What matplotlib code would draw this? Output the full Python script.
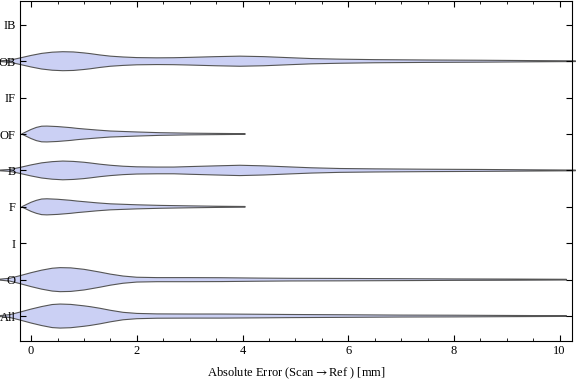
import numpy as np
import matplotlib
matplotlib.use("Agg")
import matplotlib.pyplot as plt
from matplotlib.ticker import MultipleLocator

plt.rcParams['font.family'] = ['Liberation Serif', 'DejaVu Serif']
plt.rcParams['mathtext.fontset'] = 'stix'

# categories bottom -> top
cats = ["All", "O", "I", "F", "B", "OF", "IF", "OB", "IB"]

# violin profiles: error value (mm) and relative density
x_all = [-0.59, -0.4, -0.21, 0, 0.2, 0.4, 0.55, 0.75, 1.0, 1.12, 1.3, 1.5, 1.74, 2.0, 2.38,
         3.0, 3.6, 4.3, 4.9, 5.84, 7.0, 8.0, 9.0, 10.13]
d_all = [0.04, 0.12, 0.33, 0.58, 0.79, 0.96, 1.0, 0.97, 0.85, 0.78, 0.65, 0.48, 0.31, 0.22, 0.18,
         0.17, 0.17, 0.15, 0.13, 0.11, 0.08, 0.07, 0.05, 0.03]
x_o = x_all
d_o = [0.04, 0.12, 0.33, 0.58, 0.79, 0.95, 1.0, 0.98, 0.86, 0.77, 0.63, 0.46, 0.30, 0.20, 0.17,
       0.17, 0.16, 0.13, 0.11, 0.10, 0.08, 0.06, 0.05, 0.03]
x_b = [-0.59, -0.4, -0.21, 0, 0.2, 0.4, 0.6, 0.8, 1.0, 1.12, 1.3, 1.5, 1.74, 2.0, 2.38, 2.7,
       3.0, 3.5, 3.95, 4.4, 4.9, 5.3, 5.84, 6.5, 7.5, 8.5, 9.5, 10.3]
d_b = [0.03, 0.08, 0.25, 0.46, 0.63, 0.73, 0.78, 0.75, 0.68, 0.62, 0.52, 0.43, 0.35, 0.30, 0.28, 0.28,
       0.32, 0.38, 0.43, 0.38, 0.29, 0.22, 0.16, 0.13, 0.10, 0.08, 0.05, 0.03]
x_ob = x_b
d_ob = [0.03, 0.09, 0.27, 0.48, 0.65, 0.75, 0.79, 0.77, 0.69, 0.63, 0.52, 0.42, 0.35, 0.30, 0.28, 0.29,
        0.32, 0.38, 0.42, 0.38, 0.29, 0.22, 0.17, 0.13, 0.10, 0.08, 0.05, 0.03]
x_f = [-0.18, -0.1, 0, 0.1, 0.2, 0.3, 0.5, 0.75, 0.87, 1.0, 1.25, 1.5, 2.0, 2.44, 3.0, 3.5, 4.05]
d_f = [0.0, 0.17, 0.38, 0.54, 0.65, 0.67, 0.63, 0.54, 0.48, 0.43, 0.33, 0.25, 0.17, 0.12, 0.08, 0.05, 0.03]
x_of = x_f
d_of = [0.0, 0.17, 0.38, 0.55, 0.65, 0.66, 0.62, 0.53, 0.47, 0.42, 0.33, 0.25, 0.17, 0.11, 0.07, 0.05, 0.03]

profiles = {"All": (x_all, d_all), "O": (x_o, d_o), "F": (x_f, d_f),
            "B": (x_b, d_b), "OF": (x_of, d_of), "OB": (x_ob, d_ob)}

scale = 0.33
fill_col = "#cbd0f4"
edge_col = "#555555"

fig = plt.figure(figsize=(5.76, 3.81), dpi=100)
ax = fig.add_axes([0.0347, 0.105, 0.958, 0.893])

for i, c in enumerate(cats):
    if c not in profiles:
        continue
    xs, ds = profiles[c]
    xs = np.array(xs)
    ds = np.array(ds) * scale
    y0 = i + 1
    px = np.concatenate([xs, xs[::-1]])
    py = np.concatenate([y0 + ds, (y0 - ds)[::-1]])
    ax.fill(px, py, facecolor=fill_col, edgecolor=edge_col, lw=0.8, clip_on=False, zorder=1)

ax.set_xlim(-0.21, 10.23)
ax.set_ylim(0.315, 9.66)
ax.set_yticks(range(1, len(cats) + 1))
ax.set_yticklabels(cats)
ax.xaxis.set_major_locator(MultipleLocator(2))
ax.xaxis.set_minor_locator(MultipleLocator(0.5))
ax.tick_params(axis='both', which='both', direction='in', top=True, right=True,
               labelsize=9, pad=3)
ax.tick_params(axis='x', which='major', length=4)
ax.tick_params(axis='x', which='minor', length=2.2)
ax.tick_params(axis='y', which='major', length=4)
for s in ax.spines.values():
    s.set_linewidth(0.8)
    s.set_zorder(3)
ax.set_xlabel("Absolute Error (Scan${\\rightarrow}$Ref ) [mm]", fontsize=9, labelpad=6)

fig.savefig("out.png", dpi=100)
